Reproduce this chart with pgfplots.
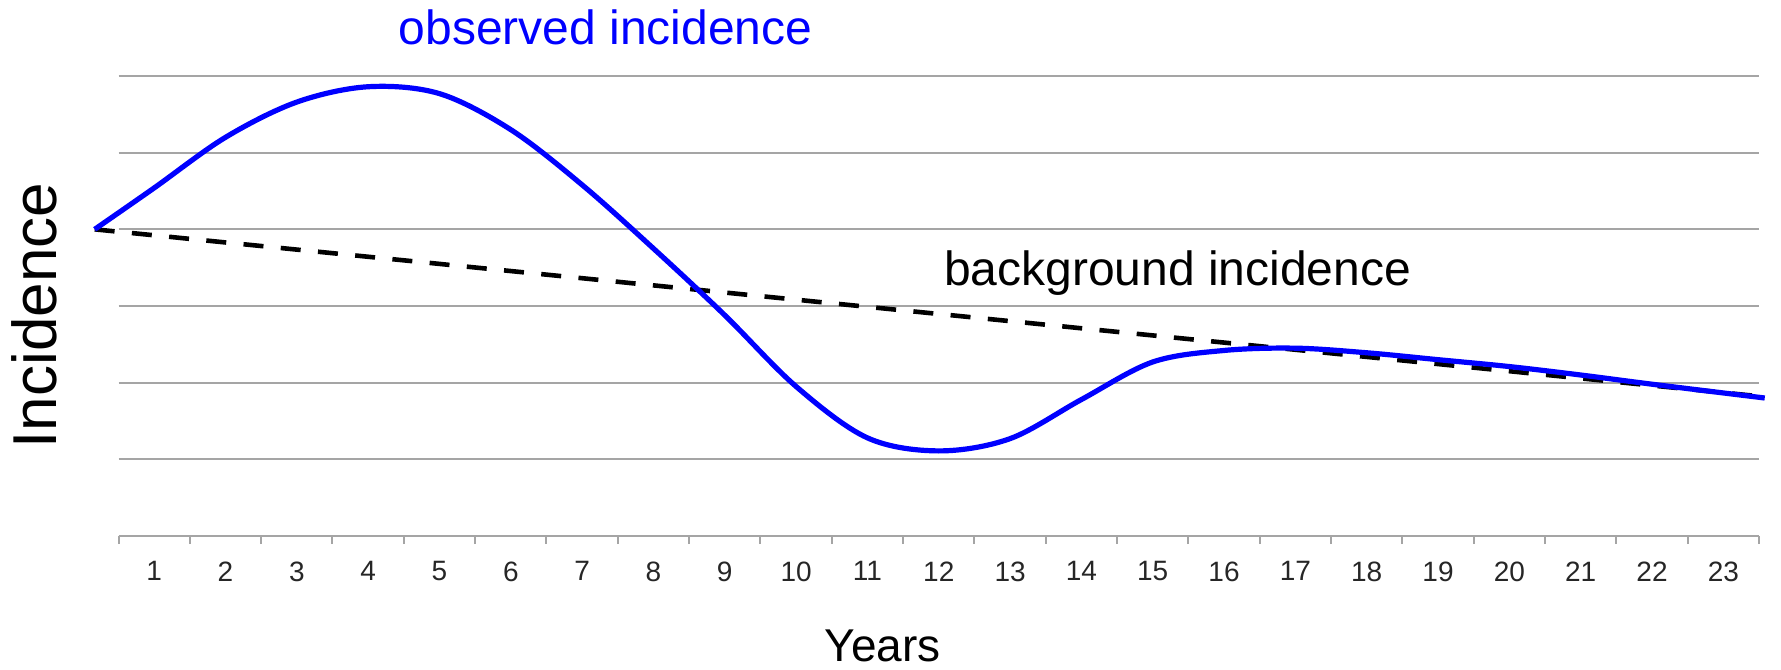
\documentclass[border=0pt]{standalone}
\usepackage{fontspec}
\setmainfont{Liberation Sans}
\usepackage{pgfplots}
\pgfplotsset{compat=1.18}
\definecolor{gridgray}{RGB}{165,165,165}
\definecolor{obsblue}{RGB}{0,0,255}
\begin{document}
\begin{tikzpicture}
\path[use as bounding box] (0,0) rectangle (890.5pt,334.5pt);
\begin{axis}[
  at={(59.25pt,66.5pt)}, anchor=south west,
  scale only axis, width=820.25pt, height=230pt,
  xmin=0.5, xmax=23.5, ymin=0, ymax=6,
  clip=false,
  axis x line*=bottom, axis y line*=left,
  y axis line style={draw=none},
  x axis line style={draw=gridgray, line width=1pt, -},
  xtick={1,...,23},
  minor xtick={0.5,1.5,...,23.5},
  major x tick style={draw=none},
  minor x tick style={draw=gridgray, line width=1pt},
  tick align=outside,
  minor tick length=4pt,
  ytick={1,...,6}, yticklabels={}, ytick style={draw=none},
  ymajorgrids, grid style={draw=gridgray, line width=1pt},
  /pgf/number format/assume math mode=true,
  xticklabel style={font=\fontsize{14}{16}\selectfont, text=black!85, yshift=-5pt},
  xlabel={Years},
  xlabel style={font=\fontsize{23}{26}\selectfont, inner sep=0pt, at={(axis description cs:0.4657,-0.272)}, anchor=base},
  ylabel={Incidence},
  ylabel style={font=\fontsize{31}{34}\selectfont, at={(axis description cs:-0.0376,0.479)}, anchor=base},
]
\addplot[black, line width=2.3pt, dash pattern=on 10pt off 8.7pt] coordinates {(0.166,4.00) (23.64,1.81)};
\addplot[obsblue, line width=2.6pt, smooth, tension=0.55] coordinates {
(0.166,4.00) (1,4.54) (2,5.20) (3,5.66) (4,5.86) (5,5.77) (6,5.30)
(7,4.58) (8,3.75) (9,2.88) (10,1.95) (11,1.28) (12,1.11) (13,1.27) (14,1.78)
(15,2.27) (16,2.42) (17,2.45) (18,2.39) (19,2.30) (20,2.21) (21,2.10) (22,1.98) (23.58,1.80)
};
\node[font=\fontsize{24}{28}\selectfont, text=obsblue, anchor=base] at (axis cs:7.33,6.41) {observed incidence};
\node[font=\fontsize{24}{28}\selectfont, text=black, anchor=base] at (axis cs:15.35,3.264) {background incidence};
\end{axis}
\end{tikzpicture}
\end{document}
